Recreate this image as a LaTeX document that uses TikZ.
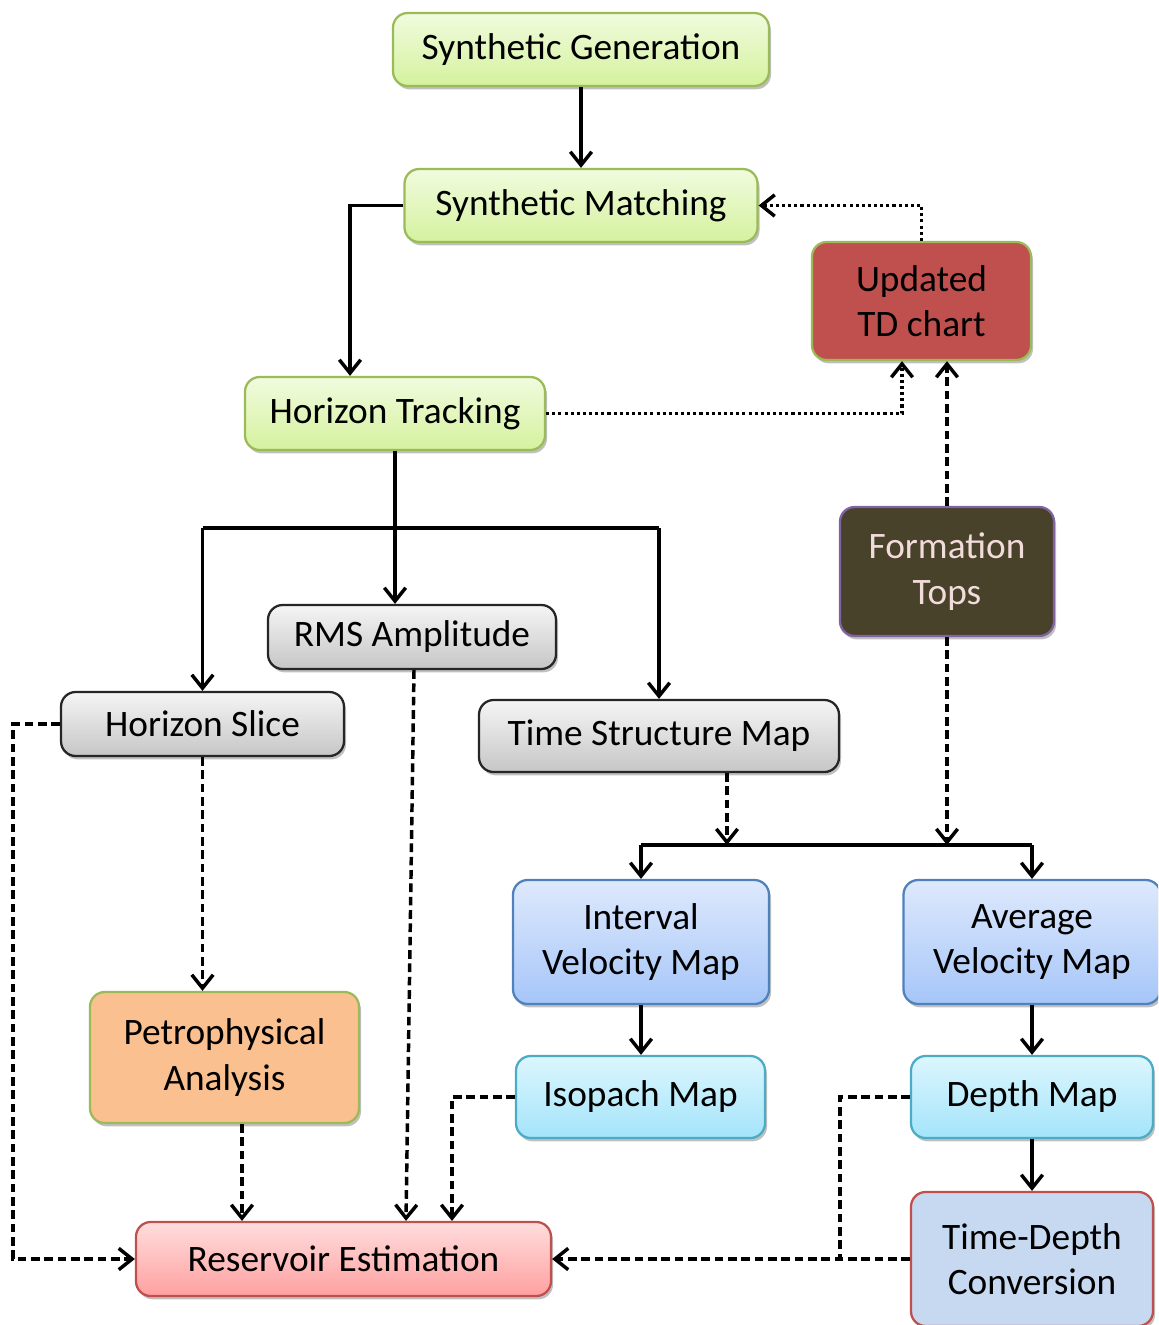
\documentclass[tikz,border=0pt]{standalone}
\usepackage{fontspec}
\setmainfont{Carlito}
\usetikzlibrary{arrows.meta,shadows,calc}
\definecolor{grnB}{HTML}{9BBB59}
\definecolor{redB}{HTML}{C0504D}
\definecolor{bluB}{HTML}{4F81BD}
\definecolor{cyaB}{HTML}{4BACC6}
\definecolor{purB}{HTML}{8064A2}
\tikzset{
  box/.style={draw, line width=1.7pt, rounded corners=11pt, inner sep=0pt, align=center,
    font=\fontsize{28}{34}\selectfont,
    drop shadow={shadow xshift=1.5pt, shadow yshift=-2.5pt, opacity=0.35, fill=black!70}},
  greenbox/.style={box, draw=grnB, top color={rgb,255:red,241;green,251;blue,222}, bottom color={rgb,255:red,212;green,242;blue,158}},
  graybox/.style={box, draw=black!85, top color={rgb,255:red,245;green,245;blue,245}, bottom color={rgb,255:red,198;green,198;blue,198}},
  bluebox/.style={box, draw=bluB, top color={rgb,255:red,222;green,233;blue,253}, bottom color={rgb,255:red,166;green,198;blue,248}},
  cyanbox/.style={box, draw=cyaB, top color={rgb,255:red,220;green,246;blue,254}, bottom color={rgb,255:red,164;green,228;blue,250}},
  pinkbox/.style={box, draw=redB, top color={rgb,255:red,255;green,221;blue,221}, bottom color={rgb,255:red,255;green,160;blue,160}},
  tip/.style={-{Straight Barb[length=10pt,width=16pt]}},
  arr/.style={line width=2.6pt, tip},
  ln/.style={line width=2.6pt},
  dsh/.style={line width=2.6pt, dash pattern=on 6.5pt off 3.5pt},
  dot/.style={line width=2.6pt, dash pattern=on 2.3pt off 2.3pt},
}
\begin{document}
\begin{tikzpicture}[x=0.75pt,y=-0.75pt]
\clip (0,0) rectangle (1158,1325);
\fill[white] (0,0) rectangle (1158,1325);

\node[greenbox, minimum width=282pt, minimum height=54.75pt] (sg) at (581,49.5) {Synthetic Generation};
\node[greenbox, minimum width=264.75pt, minimum height=54.75pt] (sm) at (581,205.5) {Synthetic Matching};
\node[box, draw=grnB, fill=redB, minimum width=164.25pt, minimum height=88.5pt] (td) at (921.5,301) {Updated\\TD chart};
\node[greenbox, minimum width=225pt, minimum height=54.75pt] (ht) at (395,413.5) {Horizon Tracking};
\node[box, draw=purB, fill={rgb,255:red,73;green,66;blue,43}, text={rgb,255:red,242;green,220;blue,219}, minimum width=160.5pt, minimum height=96.75pt] (ft) at (947,571.5) {Formation\\Tops};
\node[graybox, minimum width=216pt, minimum height=48pt] (rms) at (412,637) {RMS Amplitude};
\node[graybox, minimum width=212.25pt, minimum height=48pt] (hs) at (202.5,724) {Horizon Slice};
\node[graybox, minimum width=270pt, minimum height=54pt] (tsm) at (659,736) {Time Structure Map};
\node[bluebox, minimum width=192pt, minimum height=93pt] (ivm) at (641,942) {Interval\\Velocity Map};
\node[bluebox, minimum width=192.75pt, minimum height=93pt] (avm) at (1032,942) {Average\\Velocity Map};
\node[box, draw=grnB, fill={rgb,255:red,250;green,192;blue,144}, minimum width=201.75pt, minimum height=98.25pt] (pa) at (224.5,1057.5) {Petrophysical\\Analysis};
\node[cyanbox, minimum width=186.75pt, minimum height=61.5pt] (im) at (640.5,1097) {Isopach Map};
\node[cyanbox, minimum width=181.5pt, minimum height=61.5pt] (dm) at (1032,1097) {Depth Map};
\node[pinkbox, minimum width=311.25pt, minimum height=55.5pt] (re) at (343.5,1259) {Reservoir Estimation};
\node[box, draw=redB, fill={rgb,255:red,198;green,217;blue,241}, minimum width=181.5pt, minimum height=100.5pt] (tdc) at (1032,1259) {Time-Depth\\Conversion};

% top chain
\draw[arr] (sg) -- (sm);
\coordinate (smL) at (350,0);
\draw[arr] (sm.west) -- (sm.west -| smL) -- (smL |- ht.north);
\draw[dot, tip] (td.north) |- (sm.east);
\coordinate (tdL) at ($(td.south)+(-19.5,0)$);
\draw[dot, tip] (ht.east) -| (tdL);
\draw[dsh, tip] (ft.north) -- (ft.north |- td.south);

% horizon tracking branch
\coordinate (br) at (0,528);
\draw[arr] (ht.south) -- (ht.south |- br) -- (ht.south |- rms.north);
\draw[ln] (hs.north |- br) -- (tsm.north |- br);
\draw[arr] (hs.north |- br) -- (hs.north);
\draw[arr] (tsm.north |- br) -- (tsm.north);

% left dashed routes
\coordinate (lx) at (13,0);
\draw[dsh, tip] (hs.west) -- (hs.west -| lx) |- (re.west);
\draw[dsh, tip] (hs.south) -- (hs.south |- pa.north);
\draw[dsh, tip] ($(rms.south)+(2,0)$) -- ($(re.north)+(62.5,0)$);
\coordinate (pax) at ($(pa.south)+(17.5,0)$);
\draw[dsh, tip] (pax) -- (pax |- re.north);
\coordinate (imx) at ($(re.north)+(108.5,0)$);
\draw[dsh, tip] (im.west) -| (imx);

% velocity branch
\coordinate (bar) at (0,845);
\coordinate (tsx) at ($(tsm.south)+(68,0)$);
\draw[dsh, tip] (tsx) -- (tsx |- bar);
\draw[dsh, tip] (ft.south) -- (ft.south |- bar);
\draw[ln] (ivm.north |- bar) -- (avm.north |- bar);
\draw[arr] (ivm.north |- bar) -- (ivm.north);
\draw[arr] (avm.north |- bar) -- (avm.north);
\draw[arr] (ivm.south) -- (ivm.south |- im.north);
\draw[arr] (avm.south) -- (avm.south |- dm.north);
\draw[arr] (dm.south) -- (dm.south |- tdc.north);

% right dashed to reservoir
\coordinate (dx) at (840,0);
\draw[dsh] (dm.west) -| (dx |- tdc.west);
\draw[dsh, tip] (tdc.west) -- (re.east);
\end{tikzpicture}
\end{document}
